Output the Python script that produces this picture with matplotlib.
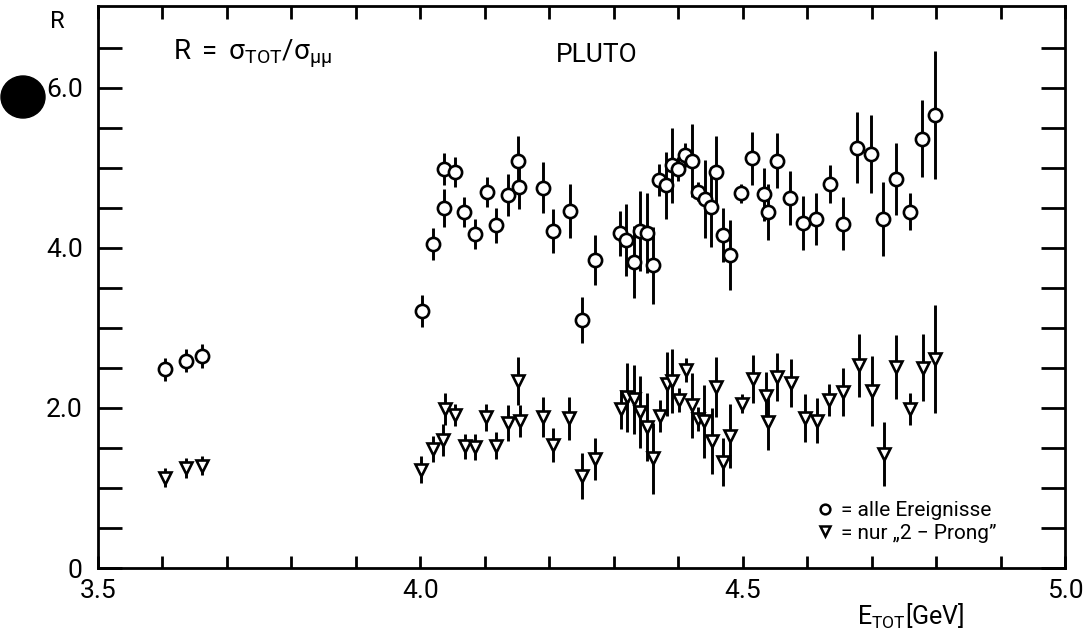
#!/usr/bin/env python
#-*- coding: utf-8 -*-
"""
Description: R = sigma_tot / sigma_mumu vs. E_tot (PLUTO)
"""

import numpy as np
import matplotlib
matplotlib.use('Agg')
import matplotlib.pyplot as plt
from matplotlib.lines import Line2D
from matplotlib.patches import Ellipse

# all events (circles)
all_x = [3.604, 3.637, 3.661,
         4.002, 4.019, 4.036, 4.037, 4.053, 4.068, 4.085, 4.103, 4.118, 4.136,
         4.151, 4.153, 4.191, 4.206, 4.232, 4.251, 4.271, 4.310, 4.319, 4.331,
         4.340, 4.351, 4.361, 4.370, 4.381, 4.390, 4.400, 4.410, 4.421, 4.431,
         4.442, 4.451, 4.459, 4.470, 4.480, 4.497, 4.515, 4.533, 4.540, 4.553,
         4.574, 4.594, 4.614, 4.635, 4.655, 4.678, 4.699, 4.718, 4.738, 4.759,
         4.778, 4.798]
all_r = [2.48, 2.59, 2.65,
         3.21, 4.05, 4.50, 4.99, 4.95, 4.45, 4.17, 4.70, 4.28, 4.66,
         5.08, 4.76, 4.75, 4.21, 4.46, 3.10, 3.85, 4.18, 4.10, 3.82,
         4.21, 4.18, 3.78, 4.85, 4.78, 5.03, 4.98, 5.16, 5.09, 4.70,
         4.61, 4.51, 4.95, 4.16, 3.91, 4.68, 5.12, 4.67, 4.45, 5.09,
         4.62, 4.31, 4.36, 4.80, 4.30, 5.25, 5.17, 4.36, 4.86, 4.45,
         5.36, 5.66]
all_err = [0.14, 0.14, 0.15,
           0.20, 0.20, 0.24, 0.20, 0.19, 0.19, 0.19, 0.19, 0.22, 0.26,
           0.32, 0.28, 0.32, 0.27, 0.34, 0.29, 0.31, 0.28, 0.45, 0.45,
           0.50, 0.50, 0.48, 0.20, 0.42, 0.47, 0.15, 0.15, 0.45, 0.12,
           0.49, 0.50, 0.45, 0.34, 0.44, 0.12, 0.33, 0.33, 0.35, 0.34,
           0.34, 0.34, 0.32, 0.24, 0.33, 0.44, 0.49, 0.46, 0.45, 0.23,
           0.48, 0.80]

# only "2-prong" events (triangles)
two_x = [3.604, 3.637, 3.661,
         4.001, 4.019, 4.035, 4.039, 4.054, 4.069, 4.085, 4.102, 4.118, 4.136,
         4.152, 4.154, 4.191, 4.206, 4.231, 4.250, 4.271, 4.311, 4.320, 4.332,
         4.341, 4.351, 4.361, 4.372, 4.382, 4.391, 4.402, 4.412, 4.421, 4.431,
         4.440, 4.452, 4.459, 4.470, 4.481, 4.499, 4.516, 4.536, 4.540, 4.554,
         4.575, 4.596, 4.616, 4.634, 4.655, 4.680, 4.700, 4.720, 4.738, 4.759,
         4.779, 4.799]
two_r = [1.13, 1.25, 1.28,
         1.23, 1.49, 1.60, 1.98, 1.91, 1.52, 1.51, 1.88, 1.53, 1.81,
         2.33, 1.84, 1.89, 1.54, 1.87, 1.15, 1.36, 1.98, 2.13, 2.11,
         1.95, 1.76, 1.37, 1.90, 2.30, 2.33, 2.10, 2.47, 2.03, 1.86,
         1.83, 1.59, 2.26, 1.32, 1.65, 2.05, 2.36, 2.15, 1.82, 2.39,
         2.31, 1.87, 1.84, 2.10, 2.20, 2.53, 2.21, 1.42, 2.51, 1.98,
         2.50, 2.61]
two_err = [0.12, 0.12, 0.12,
           0.17, 0.16, 0.20, 0.20, 0.14, 0.16, 0.16, 0.17, 0.17, 0.22,
           0.30, 0.20, 0.25, 0.21, 0.27, 0.29, 0.26, 0.24, 0.43, 0.43,
           0.45, 0.42, 0.44, 0.20, 0.40, 0.40, 0.15, 0.15, 0.40, 0.15,
           0.45, 0.41, 0.37, 0.30, 0.40, 0.12, 0.30, 0.30, 0.35, 0.30,
           0.30, 0.30, 0.28, 0.20, 0.30, 0.39, 0.44, 0.40, 0.40, 0.20,
           0.42, 0.67]

x_major = [3.5, 4.0, 4.5, 5.0]
x_labels = ['3.5', '4.0', '4.5', '5.0']
y_major = [0, 2, 4, 6]
y_labels = ['0', '2.0', '4.0', '6.0']


def plot(fout='out.png'):
    plt.rcParams['font.family'] = ['Roboto', 'DejaVu Sans']
    plt.rcParams['mathtext.fontset'] = 'custom'
    plt.rcParams['mathtext.rm'] = 'Roboto'
    plt.rcParams['mathtext.it'] = 'Roboto'

    fig = plt.figure(figsize=(10.9, 6.33), dpi=100)
    ax = fig.add_axes([98/1090., 1 - 568/633., 967/1090., 562/633.])

    style = dict(ls='none', color='black', elinewidth=2.1, capsize=0,
                 mfc='white', mec='black', mew=1.9)
    ax.errorbar(all_x, all_r, yerr=all_err, fmt='o', ms=9.5, **style)
    ax.errorbar(two_x, two_r, yerr=two_err, fmt='v', ms=8.5, **style)

    ax.set_xlim(3.5, 5.0)
    ax.set_ylim(0, 7.02)
    ax.set_xticks(x_major)
    ax.set_xticklabels(x_labels)
    ax.set_xticks(np.arange(3.5, 5.0, 0.1), minor=True)
    ax.set_yticks(y_major)
    ax.set_yticklabels(y_labels)
    ax.set_yticks(np.arange(0, 7.0, 0.5), minor=True)
    ax.tick_params(which='both', direction='in', top=True, right=True,
                   width=2, labelsize=19)
    ax.tick_params(axis='x', which='both', length=9, pad=8)
    ax.tick_params(axis='y', which='both', length=17, pad=11)
    for sp in ax.spines.values():
        sp.set_linewidth(2)

    ax.text(-0.042, 0.973, 'R', transform=ax.transAxes, fontsize=17,
            ha='center', va='center')
    ax.text(0.078, 0.914, r'R $=$ $\sigma_{\rm TOT}/\sigma_{\mu\mu}$',
            transform=ax.transAxes, fontsize=20, ha='left', va='center')
    ax.text(0.516, 0.912, 'PLUTO', transform=ax.transAxes, fontsize=19,
            ha='center', va='center')

    ax.set_xlabel(r'E$_{\rm TOT}$[GeV]', fontsize=18)
    ax.xaxis.set_label_coords(0.84, -0.06)

    handles = [Line2D([], [], marker='o', ls='none', mfc='white', mec='black',
                      mew=1.8, ms=7),
               Line2D([], [], marker='v', ls='none', mfc='white', mec='black',
                      mew=1.8, ms=7)]
    ax.legend(handles, ['= alle Ereignisse', '= nur \u201e2 \u2212 Prong\u201d'],
              loc='upper left', bbox_to_anchor=(0.732, 0.137), frameon=False,
              borderpad=0, handlelength=0.8, handletextpad=0.4,
              labelspacing=0.15, fontsize=15)

    # punched hole from the scanned page
    fig.add_artist(Ellipse((23/1090., 1 - 97/633.), 44/1090., 42/633.,
                           transform=fig.transFigure, color='black'))

    plt.savefig(fout)
    plt.close()


def main():
    "Main function"
    plot('out.png')

if __name__ == '__main__':
    main()
